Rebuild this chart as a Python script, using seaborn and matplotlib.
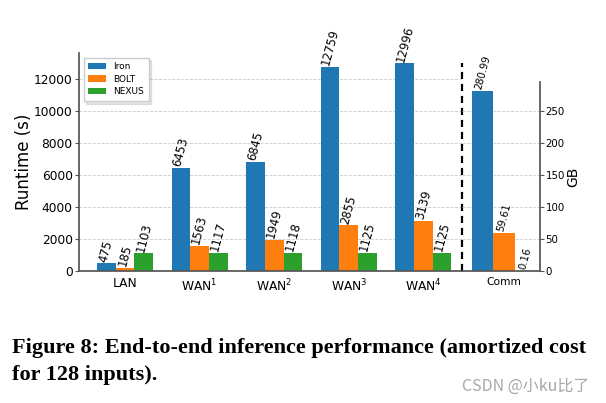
import matplotlib
matplotlib.use("Agg")
import matplotlib.pyplot as plt
import seaborn as sns
import pandas as pd

# ---- data ----
settings = ["LAN", "WAN$^1$", "WAN$^2$", "WAN$^3$", "WAN$^4$"]
systems = ["Iron", "BOLT", "NEXUS"]
iron_runtime = [475, 6453, 6845, 12759, 12996]
bolt_runtime = [185, 1563, 1949, 2855, 3139]
nexus_runtime = [1103, 1117, 1118, 1125, 1125]
comm_label = ["Comm"]
comm_gb = [280.99, 59.61, 0.16]  # Iron, BOLT, NEXUS

colors = ["#1f77b4", "#ff7f0e", "#2ca02c"]

rt = pd.DataFrame({
    "setting": settings * 3,
    "system": ["Iron"] * 5 + ["BOLT"] * 5 + ["NEXUS"] * 5,
    "runtime": iron_runtime + bolt_runtime + nexus_runtime,
})
cm = pd.DataFrame({"setting": comm_label * 3, "system": systems, "gb": comm_gb})

sns.set_theme(style="white")
plt.rcParams["font.family"] = ["DejaVu Sans"]
plt.rcParams["text.color"] = "black"
plt.rcParams["axes.labelcolor"] = "black"
plt.rcParams["xtick.color"] = "black"
plt.rcParams["ytick.color"] = "black"

W, H = 606, 403
fig = plt.figure(figsize=(W / 100, H / 100), dpi=100)

def frac(l, r, t, b):
    return [l / W, 1 - b / H, (r - l) / W, (b - t) / H]

ax1 = fig.add_axes(frac(79, 462, 53, 271))
ax2 = fig.add_axes(frac(462, 540, 82, 271))

sns.barplot(data=rt, x="setting", y="runtime", hue="system", hue_order=systems,
            palette=colors, width=0.75, ax=ax1, saturation=1, linewidth=0)
sns.barplot(data=cm, x="setting", y="gb", hue="system", hue_order=systems,
            palette=colors, width=0.865, ax=ax2, saturation=1, legend=False,
            linewidth=0)

px_per_unit = 74.6
ax1.set_xlim(-(125 - 79) / px_per_unit, (462 - 125) / px_per_unit)
ax2.set_xlim(-(504 - 462) / px_per_unit, (540 - 504) / px_per_unit)
ax1.set_ylim(0, max(iron_runtime) * 1.05)
ax2.set_ylim(0, max(comm_gb) * 1.05)

# annotations
for cont, vals in zip(ax1.containers, [iron_runtime, bolt_runtime, nexus_runtime]):
    for bar, v in zip(cont, vals):
        ax1.text(bar.get_x() + bar.get_width() / 2, bar.get_height(), f"{v}",
                 rotation=75, ha="center", va="bottom", fontsize=8.4)
for cont, v in zip(ax2.containers, comm_gb):
    for bar in cont:
        ax2.text(bar.get_x() + bar.get_width() / 2, bar.get_height(), f"{v:.2f}",
                 rotation=75, ha="center", va="bottom", fontsize=7.2, clip_on=False)

# separator
sep_x = (461.5 - 125) / px_per_unit
ax1.vlines(sep_x, 0, 13000, colors="black", linestyles=(0, (3.2, 2.2)),
           linewidth=1.6, clip_on=False, zorder=5)

spine_col = "#555555"
for ax in (ax1, ax2):
    ax.set_xlabel("")
    ax.set_ylabel("")
    ax.grid(axis="y", linestyle="--", color="#cccccc", linewidth=0.6)
    ax.set_axisbelow(True)
    ax.spines["top"].set_visible(False)
    ax.tick_params(axis="x", length=0, pad=4.5, colors="black")
    ax.spines["bottom"].set_color(spine_col)
    ax.patch.set_alpha(0)

ax1.spines["right"].set_visible(False)
ax1.spines["left"].set_color(spine_col)
ax1.tick_params(axis="x", labelsize=8.8)
ax1.tick_params(axis="y", left=True, length=3, width=0.8, pad=1.5, labelsize=8.8,
                color=spine_col, labelcolor="black")
ax1.set_yticks([0, 2000, 4000, 6000, 8000, 10000, 12000])
ax1.set_ylabel("Runtime (s)", fontsize=12, labelpad=0.5)

ax2.spines["left"].set_visible(False)
ax2.spines["right"].set_color(spine_col)
ax2.yaxis.tick_right()
ax2.yaxis.set_label_position("right")
ax2.tick_params(axis="x", labelsize=7.7)
ax2.tick_params(axis="y", right=True, left=False, length=3, width=0.8, pad=1,
                labelsize=7.4, color=spine_col, labelcolor="black")
ax2.set_yticks([0, 50, 100, 150, 200, 250])
ax2.set_ylabel("GB", fontsize=10, labelpad=1)

leg = ax1.get_legend()
handles = leg.legend_handles
labels = [t.get_text() for t in leg.get_texts()]
ax1.legend(handles, labels, loc="upper left", fontsize=6.5,
           shadow={"alpha": 0.2, "color": "gray"},
           fancybox=False, framealpha=1, edgecolor="#cccccc", labelspacing=0.4,
           borderpad=0.5)

# caption
cap_font = "Liberation Serif"
t1 = fig.text(11.5 / W, 1 - 353 / H,
              "Figure 8: End-to-end inference performance (amortized cost",
              fontsize=14, fontweight="bold", family=cap_font, va="baseline")
fig.canvas.draw()
wpx = t1.get_window_extent().width
fs = 14 * (585 - 11.5) / wpx
t1.set_fontsize(fs)
fig.text(11.5 / W, 1 - 380 / H, "for 128 inputs).", fontsize=fs,
         fontweight="bold", family=cap_font, va="baseline")
fig.text(462 / W, 1 - 391 / H, "CSDN @小ku比了", fontsize=11.5, color="#a8a8a8",
         family=["Noto Sans CJK SC", "DejaVu Sans"], va="baseline")

fig.savefig("out.png", dpi=100)
